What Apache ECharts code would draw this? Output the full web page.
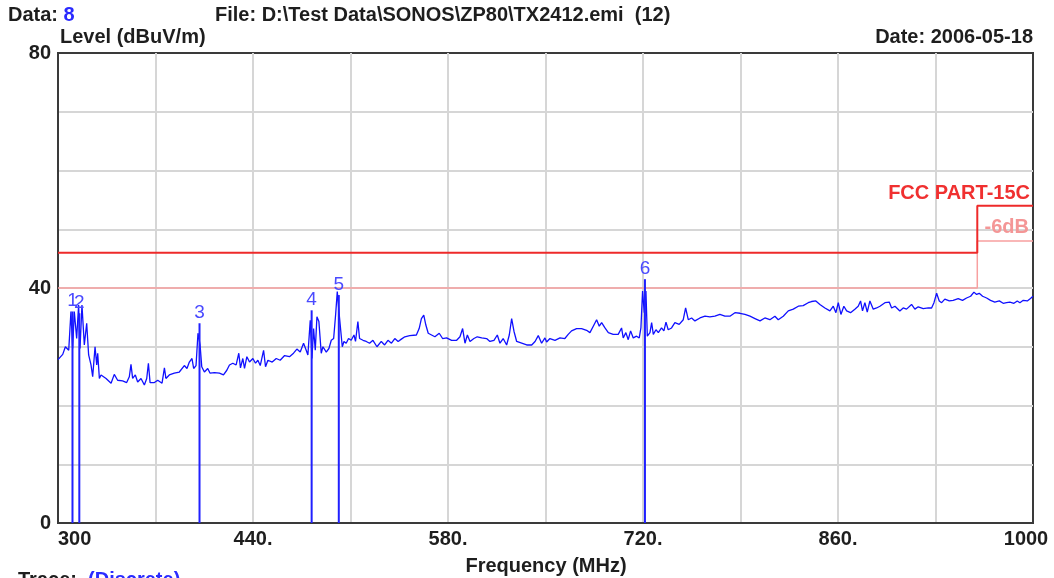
<!DOCTYPE html>
<html>
<head>
<meta charset="utf-8">
<script src="https://cdn.jsdelivr.net/npm/echarts@6/dist/echarts.min.js"></script>
<style>
  html, body { margin: 0; padding: 0; background: #fff; }
  #main { width: 1054px; height: 578px; }
</style>
</head>
<body>
<div id="main"></div>
<script>
// 测量曲线 (MHz / dBuV/m)
var traceFreq = [300.0, 300.9, 303.4, 305.3, 307.7, 309.3, 310.5, 311.7, 313.4, 314.8, 315.8, 317.2, 318.9, 320.6, 322.0,
  323.7, 324.9, 326.6, 327.8, 328.5, 329.7, 330.9, 334.5, 338.1, 340.4, 342.8, 346.4, 349.3, 351.2, 352.4,
  353.6, 355.5, 357.2, 359.6, 362.0, 363.7, 364.9, 366.1, 369.2, 371.6, 374.7, 376.4, 377.5, 379.9, 383.5,
  387.1, 390.7, 392.6, 394.3, 396.2, 397.4, 399.1, 400.5, 402.0, 403.2, 405.1, 407.5, 409.2, 412.3, 415.9,
  418.8, 421.2, 423.1, 425.5, 427.9, 429.8, 431.0, 432.7, 433.9, 435.6, 437.5, 439.9, 441.8, 443.5, 445.2,
  447.6, 449.0, 450.7, 453.8, 456.7, 459.5, 462.7, 466.2, 469.1, 471.5, 473.9, 476.3, 478.2, 479.4, 481.1,
  482.3, 483.5, 484.7, 485.9, 487.3, 489.0, 490.2, 492.6, 494.5, 496.2, 497.9, 499.3, 500.5, 501.7, 502.9,
  504.1, 505.3, 506.9, 508.6, 510.5, 512.5, 513.6, 515.3, 516.5, 519.0, 521.3, 523.7, 526.1, 529.0, 532.1,
  534.5, 536.9, 539.4, 541.8, 544.2, 546.5, 549.0, 552.5, 557.3, 559.3, 560.9, 562.6, 564.1, 565.8, 568.2,
  570.6, 573.7, 576.1, 579.0, 582.6, 586.2, 588.6, 590.5, 592.2, 593.9, 595.8, 598.6, 601.0, 604.2, 607.7,
  610.1, 613.0, 615.4, 617.3, 619.6, 622.1, 624.0, 625.7, 627.4, 629.3, 632.9, 636.5, 640.1, 642.5, 644.8,
  647.2, 649.6, 650.8, 653.2, 656.8, 660.4, 663.9, 666.3, 668.7, 672.3, 675.9, 679.5, 681.9, 684.3, 686.7,
  688.6, 690.3, 692.7, 695.1, 698.6, 702.2, 704.6, 705.8, 707.7, 709.4, 711.1, 713.0, 715.4, 717.3, 718.5,
  719.7, 720.9, 722.1, 723.1, 725.0, 726.2, 727.4, 729.3, 731.0, 733.3, 735.0, 736.5, 738.1, 740.5, 742.9,
  746.0, 748.9, 750.6, 752.5, 754.9, 757.3, 760.9, 764.5, 768.0, 771.6, 775.2, 778.8, 782.4, 786.0, 789.6,
  793.2, 796.8, 800.4, 804.0, 807.5, 811.1, 814.7, 817.1, 820.7, 824.3, 827.9, 831.5, 835.0, 838.6, 841.0,
  844.1, 847.0, 850.6, 854.2, 856.6, 858.5, 860.2, 862.1, 864.2, 866.2, 869.0, 872.1, 874.5, 876.2, 877.6,
  879.3, 881.0, 882.9, 885.3, 887.7, 890.1, 893.7, 896.8, 898.5, 900.9, 904.4, 906.8, 909.2, 912.8, 915.2,
  917.6, 921.2, 924.8, 927.2, 928.9, 930.8, 932.7, 934.4, 936.7, 939.9, 942.7, 946.3, 949.4, 952.3, 955.2,
  957.6, 959.5, 961.4, 963.8, 966.7, 969.5, 972.6, 975.8, 978.6, 981.0, 983.4, 986.3, 988.7, 990.6, 993.0,
  995.9, 998.2, 1000.0];
var traceLevel = [27.8, 28.0, 28.7, 30.0, 29.4, 36.0, 29.7, 36.0, 31.4, 37.1, 29.7, 37.1, 30.3, 34.0, 28.6,
  26.9, 24.9, 30.0, 26.9, 28.9, 24.6, 25.2, 24.6, 23.8, 25.3, 24.3, 24.2, 23.9, 24.9, 27.0,
  24.6, 25.2, 24.0, 24.6, 23.5, 24.6, 27.2, 23.9, 23.9, 24.3, 23.8, 26.4, 24.6, 25.2, 25.5,
  25.7, 26.8, 26.3, 27.4, 28.0, 26.3, 26.8, 32.3, 30.3, 26.6, 25.7, 26.3, 25.5, 25.6, 25.5,
  25.2, 26.0, 26.9, 27.2, 26.9, 28.9, 26.4, 28.0, 26.3, 28.3, 27.4, 28.0, 27.2, 27.7, 26.8,
  29.4, 26.6, 27.7, 27.4, 28.0, 27.7, 28.5, 28.3, 28.9, 29.6, 29.1, 30.6, 29.4, 28.6, 34.5,
  28.0, 33.1, 29.4, 35.1, 34.3, 28.9, 30.0, 29.1, 29.7, 31.1, 31.4, 35.4, 39.4, 36.0, 36.2,
  30.0, 30.9, 30.6, 31.4, 31.1, 32.0, 30.9, 34.3, 31.4, 31.1, 30.9, 30.6, 31.1, 30.0, 30.9,
  30.3, 31.1, 30.6, 31.4, 30.9, 31.3, 31.7, 31.9, 32.0, 33.1, 34.8, 35.4, 33.7, 32.3, 32.0,
  31.7, 32.3, 31.4, 31.5, 31.1, 31.1, 31.7, 33.1, 30.6, 32.0, 30.9, 31.4, 31.7, 31.5, 31.4,
  30.9, 31.1, 32.0, 30.6, 31.4, 30.3, 32.0, 34.8, 32.6, 30.9, 30.6, 30.3, 30.3, 30.9, 31.9,
  30.6, 31.5, 30.8, 31.4, 31.1, 31.5, 31.4, 32.1, 32.7, 33.1, 33.1, 32.8, 32.4, 33.5, 34.6,
  33.5, 34.1, 33.2, 32.4, 32.1, 32.1, 33.2, 31.5, 32.4, 31.2, 32.7, 31.5, 31.8, 31.5, 33.2,
  39.5, 35.8, 39.5, 31.8, 32.4, 34.1, 32.1, 32.9, 32.4, 33.2, 32.7, 34.2, 32.9, 33.2, 34.1,
  33.8, 34.6, 36.6, 34.6, 34.9, 34.4, 34.9, 35.2, 35.1, 35.2, 35.5, 35.2, 35.2, 35.8, 35.7,
  35.5, 35.2, 34.8, 34.4, 34.9, 34.6, 35.2, 34.6, 35.2, 36.1, 36.4, 36.9, 37.0, 37.5, 37.7,
  37.8, 37.2, 36.6, 36.1, 36.9, 35.8, 37.5, 35.5, 36.9, 36.1, 35.8, 36.4, 36.9, 37.8, 36.1,
  37.5, 35.9, 37.8, 36.4, 36.6, 36.9, 37.5, 37.6, 36.6, 36.9, 36.1, 36.6, 36.4, 37.2, 36.4,
  36.8, 36.5, 36.6, 36.6, 37.5, 39.1, 37.8, 37.5, 38.1, 37.8, 37.9, 38.2, 37.9, 38.3, 38.6,
  39.3, 38.9, 39.1, 38.6, 38.3, 37.9, 37.6, 37.8, 37.4, 37.5, 37.6, 37.4, 37.8, 37.5, 37.9,
  37.8, 38.2, 38.6];

// 标记点
var markerNames = ['1', '2', '3', '4', '5', '6'];
var markerFreq = [310.4, 315.3, 401.6, 482.1, 501.6, 721.4];
var markerLevel = [36.0, 35.7, 34.0, 36.2, 38.8, 41.5];

// 限值线 FCC PART-15C 及 -6dB
var limitFreq = [300, 960, 960, 1000];
var limitLevel = [46, 46, 54, 54];
var marginLevel = [40, 40, 48, 48];

var xTickLabels = ['300', '440.', '580.', '720.', '860.', '1000'];
var yTickLabels = ['0', '40', '80'];

function pairs(xs, ys) {
  return xs.map(function (x, i) { return [x, ys[i]]; });
}

var ff = 'Liberation Sans, Arial, sans-serif';
var mainFont = 'bold 20px ' + ff;
var textDark = '#1e1e1e';
var blueText = '#2a2aff';

function label(x, y, text, align, fill, font) {
  return {
    type: 'text', x: x, y: y, silent: true, z: 100,
    style: { text: text, font: font || mainFont, fill: fill || textDark, textAlign: align || 'left', textVerticalAlign: 'middle' }
  };
}

var chart = echarts.init(document.getElementById('main'));

var option = {
  animation: false,
  backgroundColor: '#fff',
  textStyle: { fontFamily: ff },
  grid: { left: 58, right: 21, top: 53, bottom: 55, show: true, borderColor: '#3a3a3a', borderWidth: 2 },
  graphic: [
    {
      type: 'text', x: 8, y: 15, silent: true,
      style: {
        text: '{a|Data: }{b|8}', textVerticalAlign: 'middle',
        rich: { a: { font: mainFont, fill: textDark }, b: { font: mainFont, fill: blueText } }
      }
    },
    label(215, 15, 'File: D:\\Test Data\\SONOS\\ZP80\\TX2412.emi  (12)'),
    label(60, 37, 'Level (dBuV/m)'),
    label(1033, 37, 'Date: 2006-05-18', 'right'),
    label(546, 566, 'Frequency (MHz)', 'center'),
    {
      type: 'text', x: 18, y: 580, silent: true,
      style: {
        text: '{a|Trace:  }{b|(Discrete)}', textVerticalAlign: 'middle',
        rich: { a: { font: mainFont, fill: textDark }, b: { font: mainFont, fill: blueText } }
      }
    },
    label(1030, 193, 'FCC PART-15C', 'right', '#f03030'),
    label(1029, 227, '-6dB', 'right', '#f49696')
  ],
  xAxis: {
    type: 'value', min: 300, max: 1000, interval: 70,
    axisLine: { show: true, lineStyle: { color: '#3a3a3a', width: 2 } },
    axisTick: { show: false },
    splitLine: { show: true, showMinLine: false, showMaxLine: false, lineStyle: { color: '#d6d6d6', width: 2 } },
    axisLabel: {
      color: textDark, fontSize: 20, fontWeight: 'bold', fontFamily: ff, margin: 6,
      alignMinLabel: 'left',
      formatter: function (v) {
        var i = Math.round((v - 300) / 140);
        if (Math.abs(v - 300 - i * 140) > 0.01) return '';
        if (i === 5) return '{r|' + xTickLabels[i] + '}';
        return xTickLabels[i];
      },
      rich: { r: { fontSize: 20, fontWeight: 'bold', color: textDark, fontFamily: ff, padding: [0, 14, 0, 0] } }
    }
  },
  yAxis: {
    type: 'value', min: 0, max: 80, interval: 10,
    axisLine: { show: true, lineStyle: { color: '#3a3a3a', width: 2 } },
    axisTick: { show: false },
    splitLine: { show: true, showMinLine: false, showMaxLine: false, lineStyle: { color: '#d6d6d6', width: 2 } },
    axisLabel: {
      color: textDark, fontSize: 20, fontWeight: 'bold', fontFamily: ff, margin: 7,
      formatter: function (v) {
        return v % 40 === 0 ? yTickLabels[v / 40] : '';
      }
    }
  },
  series: [
    {
      name: 'margin', type: 'line', data: pairs(limitFreq, marginLevel),
      symbol: 'none', lineStyle: { color: '#f8a0a0', width: 1.5 }, z: 3
    },
    {
      name: 'limit', type: 'line', data: pairs(limitFreq, limitLevel),
      symbol: 'none', lineStyle: { color: '#ee2a2a', width: 2 }, z: 3
    },
    {
      name: 'trace', type: 'line', data: pairs(traceFreq, traceLevel),
      symbol: 'none', lineStyle: { color: '#1010ff', width: 1.3 }, z: 4
    },
    {
      name: 'markers', type: 'bar', data: pairs(markerFreq, markerLevel),
      barWidth: 2, itemStyle: { color: '#2020ff' }, z: 5,
      label: {
        show: true, position: 'top', distance: 1,
        color: '#4a4aff', fontSize: 19, fontFamily: ff,
        formatter: function (p) { return markerNames[p.dataIndex]; }
      }
    }
  ]
};
chart.setOption(option);
</script>
</body>
</html>
